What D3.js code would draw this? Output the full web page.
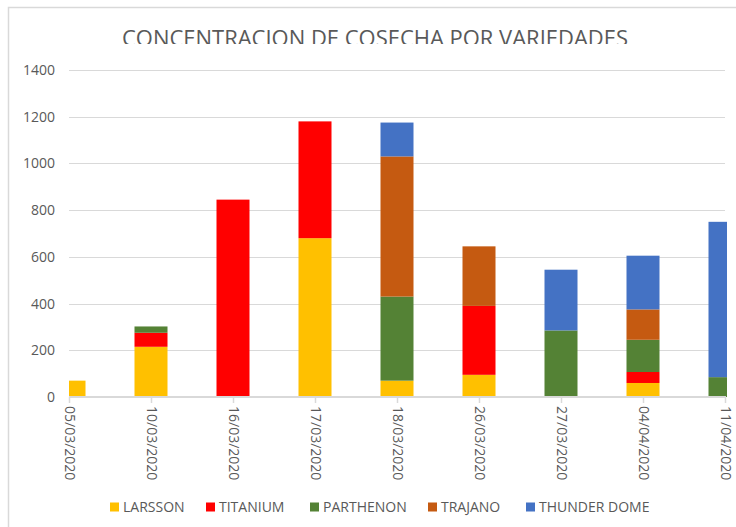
<!DOCTYPE html>
<html><head><meta charset="utf-8">
<script src="https://cdn.jsdelivr.net/npm/d3@7/dist/d3.min.js"></script>
<style>body{margin:0;background:#fff}svg{display:block}text{font-family:"Open Sans",sans-serif;fill:#595959}</style>
</head><body><svg id="c" width="736" height="527"></svg>
<script>
const categories = ["05/03/2020","10/03/2020","16/03/2020","17/03/2020","18/03/2020","26/03/2020","27/03/2020","04/04/2020","11/04/2020"];
const seriesNames = ["LARSSON","TITANIUM","PARTHENON","TRAJANO","THUNDER DOME"];
const larsson    = [70, 215, 0, 680, 70, 95, 0, 60, 0];
const titanium   = [0, 60, 845, 500, 0, 295, 0, 47, 0];
const parthenon  = [0, 27, 0, 0, 360, 0, 285, 138, 85];
const trajano    = [0, 0, 0, 0, 600, 255, 0, 130, 0];
const thunder    = [0, 0, 0, 0, 145, 0, 260, 230, 665];
const yTicks = [0,200,400,600,800,1000,1200,1400];
const colors = ["#FFC000","#FF0000","#548235","#C55A11","#4472C4"];
const title = "CONCENTRACION DE COSECHA POR VARIEDADES";

const seriesVals = [larsson, titanium, parthenon, trajano, thunder];
const rows = categories.map((c,i)=>{const r={cat:c}; seriesNames.forEach((s,j)=>r[s]=seriesVals[j][i]); return r;});
const stack = d3.stack().keys(seriesNames)(rows);

const svg = d3.select("#c");
const L=69, R=725, T=70, B=397;
const x = d3.scalePoint().domain(categories).range([L,R]);
const y = d3.scaleLinear().domain([0,1400]).range([B,T]);
const bw = 33;

// chart border
svg.append("rect").attr("x",8.5).attr("y",7.5).attr("width",900).attr("height",700)
  .attr("fill","none").attr("stroke","#d9d9d9").attr("stroke-width",1.5);

// title (clipped at bottom like reference)
svg.append("clipPath").attr("id","tclip").append("rect").attr("x",0).attr("y",0).attr("width",736).attr("height",44);
svg.append("text").attr("x",375).attr("y",46).attr("text-anchor","middle")
  .attr("clip-path","url(#tclip)")
  .style("font-size","21px").style("fill","#595959")
  .attr("textLength",506).attr("lengthAdjust","spacingAndGlyphs").text(title);

// gridlines
svg.append("g").selectAll("line").data(yTicks.filter(d=>d>0)).join("line")
  .attr("x1",L).attr("x2",R).attr("y1",d=>Math.round(y(d))+0.5).attr("y2",d=>Math.round(y(d))+0.5)
  .attr("stroke","#d9d9d9").attr("stroke-width",1);

// y axis labels
const ya = svg.append("g").attr("transform",`translate(${L-14},0)`)
  .call(d3.axisLeft(y).tickValues(yTicks).tickFormat(d3.format("d")).tickSize(0).tickPadding(0));
ya.select(".domain").remove();
ya.selectAll("text").style("font-size","14px").style("fill","#595959").style("font-family","Open Sans");

// bars
svg.append("clipPath").attr("id","pclip").append("rect").attr("x",L).attr("y",0).attr("width",R-L+2).attr("height",B+1);
const g = svg.append("g").attr("clip-path","url(#pclip)");
g.selectAll("g").data(stack).join("g").attr("fill",(d,i)=>colors[i])
  .selectAll("rect").data(d=>d).join("rect")
  .attr("x",d=>x(d.data.cat)-bw/2).attr("width",bw)
  .attr("y",d=>y(d[1])).attr("height",d=>y(d[0])-y(d[1]));

// x axis
const xa = svg.append("g").attr("transform",`translate(0,${B})`)
  .call(d3.axisBottom(x).tickSize(6).tickPadding(0).tickSizeOuter(0));
xa.select(".domain").attr("stroke","#d9d9d9").attr("stroke-width",2).attr("d",`M${L},0H${R+1}`);
xa.selectAll(".tick line").attr("stroke","#d9d9d9").attr("stroke-width",1.5);
xa.selectAll("text").style("font-size","14px").style("fill","#595959").style("font-family","Open Sans")
  .attr("transform","rotate(90)").attr("text-anchor","start").attr("x",9).attr("y",0).attr("dy","0.35em");

// legend
const legX = [110, 206, 310, 428, 526];
const lg = svg.append("g").attr("transform","translate(0,507)");
seriesNames.forEach((s,i)=>{
  lg.append("rect").attr("x",legX[i]).attr("y",-4.5).attr("width",9).attr("height",9).attr("fill",colors[i]);
  lg.append("text").attr("x",legX[i]+13).attr("y",0).attr("dy","0.36em").style("font-size","14px").text(s);
});
</script></body></html>
